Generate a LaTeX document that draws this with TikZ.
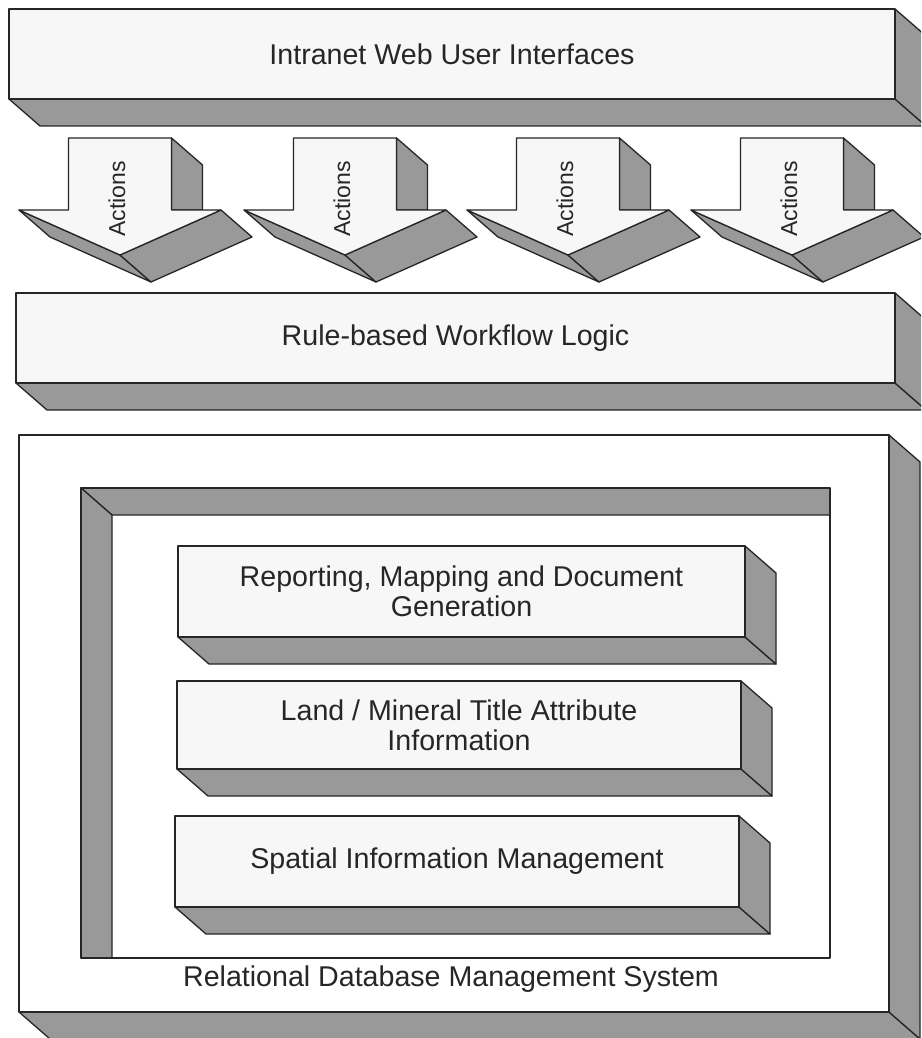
\documentclass[tikz,border=0pt]{standalone}
\usepackage{fontspec}
\setmainfont{Liberation Sans}
\begin{document}
\begin{tikzpicture}[x=1pt,y=-1pt,
  edge/.style={draw=black!85, line width=1.3pt, line join=round},
  face/.style={edge, fill=black!3},
  side/.style={edge, fill=black!40},
  lbl/.style={text=black!85, font=\fontsize{28.6}{30}\selectfont, align=center, inner sep=0pt},
  actlbl/.style={text=black!85, font=\fontsize{23}{25}\selectfont, rotate=90, inner sep=0pt}]

% extruded slab: name, left, top, right, bottom, label
\newcommand\slab[6]{%
  \path[side] (#2,#5) -- (#4,#5) -- ({#4+31},{#5+27}) -- ({#2+31},{#5+27}) -- cycle;
  \path[side] (#4,#3) -- ({#4+31},{#3+27}) -- ({#4+31},{#5+27}) -- (#4,#5) -- cycle;
  \path[face] (#2,#3) rectangle (#4,#5);
  \node[lbl] (#1) at ({(#2+#4)/2},{(#3+#5)/2}) {#6};
}

% extruded downward arrow: name, centre x
\newcommand\actarrow[2]{%
  \path[side] ({#2+51.5},138) -- ({#2+82.5},165) -- ({#2+82.5},210) -- ({#2+51.5},210) -- cycle;
  \path[side] ({#2-101},210) -- (#2,255) -- ({#2+31},282) -- ({#2-70},237) -- cycle;
  \path[side] ({#2+101},210) -- ({#2+132},237) -- ({#2+31},282) -- (#2,255) -- cycle;
  \path[face] ({#2-51.5},138) -- ({#2+51.5},138) -- ({#2+51.5},210) -- ({#2+101},210)
     -- (#2,255) -- ({#2-101},210) -- ({#2-51.5},210) -- cycle;
  \node[actlbl] (#1) at ({#2-3},199) {Actions};
}

\useasboundingbox (0,0) rectangle (921,1038);
\clip (0,0) rectangle (921,1038);
\fill[white] (0,0) rectangle (921,1038);

% top layer
\slab{web}{9}{9}{895}{99}{Intranet Web User Interfaces}

% actions
\actarrow{act1}{120}
\actarrow{act2}{345}
\actarrow{act3}{568}
\actarrow{act4}{792}

% workflow layer
\slab{rule}{16}{293}{895}{383}{Rule-based Workflow Logic}

% database frame
\path[side] (19,1012) -- (889,1012) -- (920,1039) -- (50,1039) -- cycle;
\path[side] (889,435) -- (920,462) -- (920,1039) -- (889,1012) -- cycle;
\path[edge, fill=white] (19,435) rectangle (889,1012);
\node[lbl] (rdbms) at (451,979) {Relational Database Management System};

% recessed inner frame
\path[side] (81,488) -- (830,488) -- (830,515) -- (112,515) -- cycle;
\path[side] (81,488) -- (112,515) -- (112,958) -- (81,958) -- cycle;
\draw[edge] (81,488) rectangle (830,958);

% inner layers
\slab{rep}{178}{546}{745}{637}{Reporting, Mapping and Document\\Generation}
\slab{land}{177}{681}{741}{769}{Land / Mineral Title Attribute\\Information}
\slab{spat}{175}{816}{739}{907}{Spatial Information Management}
\end{tikzpicture}
\end{document}
